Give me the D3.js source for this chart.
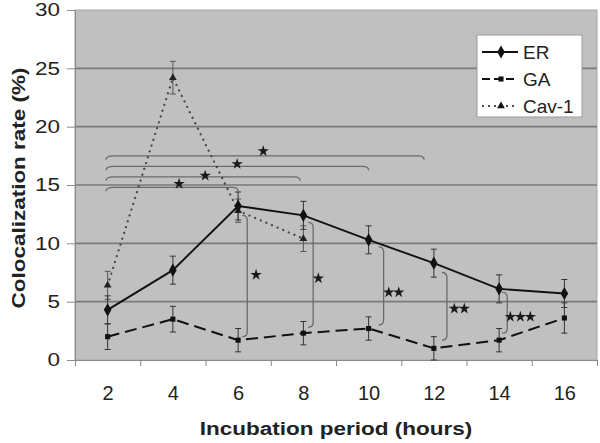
<!DOCTYPE html>
<html>
<head>
<meta charset="utf-8">
<script src="https://cdn.jsdelivr.net/npm/d3@7"></script>
<style>
  body { margin: 0; background: #fff; }
  svg { display: block; font-family: Arial, "Liberation Sans", sans-serif; }
</style>
</head>
<body>
<div id="chart"></div>
<script>
// hours on the x axis
const hours = [2, 4, 6, 8, 10, 12, 14, 16]
const yTicks = [0, 5, 10, 15, 20, 25, 30]

// colocalization rate (%) and error
const erVals = [4.3, 7.7, 13.2, 12.4, 10.3, 8.3, 6.1, 5.7]
const erErr  = [1.2, 1.2, 1.2, 1.2, 1.2, 1.2, 1.2, 1.2]
const gaVals = [2.0, 3.5, 1.7, 2.3, 2.7, 1.0, 1.7, 3.6]
const gaErr  = [1.1, 1.1, 1.0, 1.0, 1.0, 1.0, 1.0, 1.3]
const cavHours = [2, 4, 6, 8]
const cavVals = [6.4, 24.2, 12.8, 10.4]
const cavErr  = [1.2, 1.4, 1.0, 1.1]

// significance: horizontal brackets (Cav-1 at 2h vs later), [from h, to h, level %]
const hBrackets = [[1.95, 11.7, 17.5], [1.95, 10.0, 16.6], [1.95, 7.9, 15.7], [1.95, 6.0, 14.8]]
const hStars = [[6.77, 17.9, '*'], [5.97, 16.8, '*'], [4.99, 15.8, '*'], [4.19, 15.1, '*']]
// vertical brackets ER vs GA: [at h, top %, bottom %]
const vBrackets = [[6.28, 12.4, 2.0], [8.3, 11.8, 2.8], [10.46, 9.7, 3.0], [12.4, 7.5, 1.7], [14.25, 5.8, 2.3]]
const vStars = [[6.55, 7.3, '*'], [8.46, 7.0, '*'], [10.77, 5.8, '**'], [12.78, 4.4, '**'], [14.65, 3.7, '***']]

const W = 600, H = 443
const pl = { left: 75, right: 597, top: 10, bottom: 360 }
const stretch = 1.25 // the original text is drawn wide

const svg = d3.select('#chart').append('svg')
    .attr('width', W).attr('height', H)

const x = d3.scaleLinear().domain([1, 17]).range([pl.left, pl.right])
const y = d3.scaleLinear().domain([0, 30]).range([pl.bottom, pl.top])

// plot area
svg.append('rect')
    .attr('x', pl.left).attr('y', pl.top)
    .attr('width', pl.right - pl.left).attr('height', pl.bottom - pl.top)
    .attr('fill', '#c0c0c0').attr('stroke', '#a8a8a8')

// gridlines
svg.append('g').selectAll('line')
    .data(yTicks.filter(d => d > 0 && d < 30))
    .enter().append('line')
    .attr('x1', pl.left).attr('x2', pl.right)
    .attr('y1', d => y(d)).attr('y2', d => y(d))
    .attr('stroke', '#7a7a7a').attr('stroke-width', 1.6)

// axes
const yAxis = svg.append('g')
    .attr('transform', `translate(${pl.left},0)`)
    .call(d3.axisLeft(y).tickValues(yTicks).tickSize(8).tickPadding(7))
yAxis.selectAll('text')
    .attr('font-size', 18).attr('fill', '#222')
    .attr('x', -15 / stretch)
    .attr('transform', `scale(${stretch},1)`)
yAxis.selectAll('line, path').attr('stroke', '#888')

const xAxis = svg.append('g')
    .attr('transform', `translate(0,${pl.bottom})`)
    .call(d3.axisBottom(x).tickValues(d3.range(1, 18, 2)).tickFormat('').tickSize(6).tickSizeOuter(0))
xAxis.selectAll('line, path').attr('stroke', '#888')

const xLabels = svg.append('g')
    .attr('transform', `translate(0,${pl.bottom})`)
    .call(d3.axisBottom(x).tickValues(hours).tickSize(0).tickPadding(26))
xLabels.select('.domain').remove()
xLabels.selectAll('text').attr('font-size', 20).attr('fill', '#222')

// titles
svg.append('text')
    .attr('transform', `translate(${(pl.left + pl.right) / 2},435) scale(${stretch},1)`)
    .attr('text-anchor', 'middle')
    .attr('font-size', 18).attr('font-weight', 'bold').attr('fill', '#222')
    .text('Incubation period (hours)')

svg.append('text')
    .attr('transform', `translate(25,${(pl.top + pl.bottom) / 2 + 3}) rotate(-90) scale(${stretch},1)`)
    .attr('text-anchor', 'middle')
    .attr('font-size', 18).attr('font-weight', 'bold').attr('fill', '#222')
    .text('Colocalization rate (%)')

// horizontal significance brackets
const br = svg.append('g').attr('fill', 'none').attr('stroke', '#6a6a6a').attr('stroke-width', 1.3)
hBrackets.forEach(([h0, h1, v]) => {
    const x0 = x(h0), x1 = x(h1), yy = y(v)
    br.append('path')
        .attr('d', `M${x0},${yy + 4} Q${x0},${yy} ${x0 + 8},${yy} L${x1 - 6},${yy} Q${x1},${yy} ${x1},${yy + 4}`)
})
vBrackets.forEach(([h, v0, v1]) => {
    const xx = x(h), y0 = y(v0), y1 = y(v1)
    br.append('path')
        .attr('d', `M${xx - 5},${y0} Q${xx},${y0} ${xx},${y0 + 5} L${xx},${y1 - 5} Q${xx},${y1} ${xx - 5},${y1}`)
})

// stars
const star = d3.symbol().type(d3.symbolStar).size(40)
const starG = svg.append('g').attr('fill', '#1a1a1a')
hStars.concat(vStars).forEach(([h, v, s]) => {
    const n = s.length
    for (let i = 0; i < n; i++) {
        starG.append('path')
            .attr('d', star)
            .attr('transform', `translate(${x(h) + (i - (n - 1) / 2) * 10},${y(v)})`)
    }
})

// error bars
const drawErr = (xs, vals, errs, col) => {
    const g = svg.append('g').attr('stroke', col).attr('stroke-width', 1)
    xs.forEach((h, i) => {
        const cx = x(h), t = y(vals[i] + errs[i]), b = y(vals[i] - errs[i])
        g.append('line').attr('x1', cx).attr('x2', cx).attr('y1', t).attr('y2', b)
        g.append('line').attr('x1', cx - 3).attr('x2', cx + 3).attr('y1', t).attr('y2', t)
        g.append('line').attr('x1', cx - 3).attr('x2', cx + 3).attr('y1', b).attr('y2', b)
    })
}
drawErr(cavHours, cavVals, cavErr, '#555')
drawErr(hours, gaVals, gaErr, '#333')
drawErr(hours, erVals, erErr, '#333')

const line = d3.line().x(d => x(d[0])).y(d => y(d[1]))

// Cav-1 dotted
svg.append('path')
    .datum(cavHours.map((h, i) => [h, cavVals[i]]))
    .attr('d', line).attr('fill', 'none')
    .attr('stroke', '#444').attr('stroke-width', 2.2)
    .attr('stroke-linecap', 'round').attr('stroke-dasharray', '0.1,6')

// GA dashed
svg.append('path')
    .datum(hours.map((h, i) => [h, gaVals[i]]))
    .attr('d', line).attr('fill', 'none')
    .attr('stroke', '#111').attr('stroke-width', 2).attr('stroke-dasharray', '12,6')

// ER solid
svg.append('path')
    .datum(hours.map((h, i) => [h, erVals[i]]))
    .attr('d', line).attr('fill', 'none')
    .attr('stroke', '#111').attr('stroke-width', 1.9)

// markers
const diamond = d3.symbol().type(d3.symbolDiamond).size(50)
const square = d3.symbol().type(d3.symbolSquare).size(26)
const tri = d3.symbol().type(d3.symbolTriangle).size(26)

svg.append('g').selectAll('path').data(cavHours).enter().append('path')
    .attr('d', tri).attr('fill', '#222')
    .attr('transform', (h, i) => `translate(${x(h)},${y(cavVals[i])})`)
svg.append('g').selectAll('path').data(hours).enter().append('path')
    .attr('d', square).attr('fill', '#111')
    .attr('transform', (h, i) => `translate(${x(h)},${y(gaVals[i])})`)
svg.append('g').selectAll('path').data(hours).enter().append('path')
    .attr('d', diamond).attr('fill', '#111')
    .attr('transform', (h, i) => `translate(${x(h)},${y(erVals[i])})`)

// legend
const lg = svg.append('g').attr('transform', 'translate(477,35)')
lg.append('rect').attr('width', 105).attr('height', 82)
    .attr('fill', '#fff').attr('stroke', '#999')
const legendItems = [
    { name: 'ER', dash: null, sym: diamond, w: 1.8 },
    { name: 'GA', dash: '8,4', sym: square, w: 1.8 },
    { name: 'Cav-1', dash: '2,4', sym: tri, w: 1.4 },
]
legendItems.forEach((d, i) => {
    const ly = 17 + i * 27
    lg.append('line').attr('x1', 5).attr('x2', 41).attr('y1', ly).attr('y2', ly)
        .attr('stroke', '#111').attr('stroke-width', d.w)
        .attr('stroke-dasharray', d.dash)
    lg.append('path').attr('d', d.sym).attr('fill', '#111')
        .attr('transform', `translate(24,${ly})`)
    lg.append('text').attr('x', 46).attr('y', ly + 7)
        .attr('font-size', 19).attr('fill', '#222').text(d.name)
})
</script>
</body>
</html>
